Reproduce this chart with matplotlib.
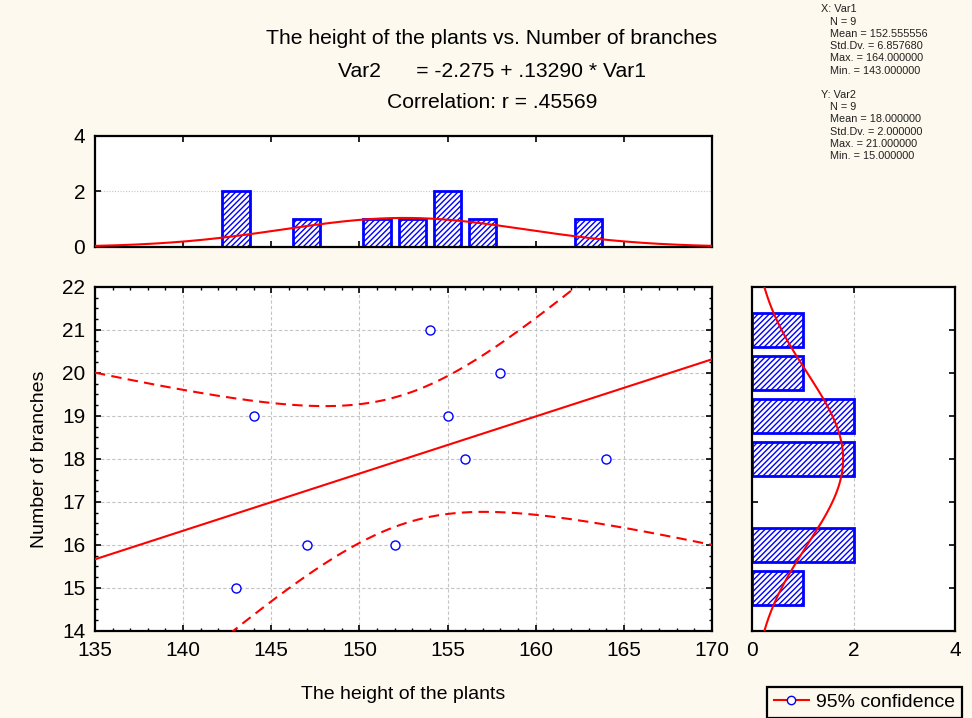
import numpy as np
import matplotlib
matplotlib.use('Agg')
import matplotlib.pyplot as plt
from matplotlib.lines import Line2D
from matplotlib.ticker import MultipleLocator

plt.rcParams['font.family'] = ['Liberation Sans', 'DejaVu Sans']
plt.rcParams['hatch.linewidth'] = 1.0
plt.rcParams['hatch.color'] = '#0000ff'

# data: height of plants (Var1) and number of branches (Var2)
var1 = [143, 144, 147, 152, 154, 155, 156, 158, 164]
var2 = [15, 19, 16, 16, 21, 19, 18, 20, 18]

# histogram of Var1 (bins of width 2, drawn at bin centres)
x_bin_centers = [143, 147, 151, 153, 155, 157, 163]
x_bin_counts = [2, 1, 1, 1, 2, 1, 1]
# histogram of Var2 (bins of width 1)
y_bin_centers = [15, 16, 18, 19, 20, 21]
y_bin_counts = [1, 2, 2, 2, 1, 1]

stats_text = ("X: Var1\n   N = 9\n   Mean = 152.555556\n   Std.Dv. = 6.857680\n"
              "   Max. = 164.000000\n   Min. = 143.000000\n\n"
              "Y: Var2\n   N = 9\n   Mean = 18.000000\n   Std.Dv. = 2.000000\n"
              "   Max. = 21.000000\n   Min. = 15.000000")

BG = '#fdf9ee'
BLUE = '#0000ff'
RED = '#ff0000'
TICK_FS = 15
LABEL_FS = 14

fig = plt.figure(figsize=(9.72, 7.18), dpi=100, facecolor=BG)
ax = fig.add_axes([0.0977, 0.1212, 0.6348, 0.4791])
axt = fig.add_axes([0.0977, 0.656, 0.6348, 0.1546], sharex=ax)
axr = fig.add_axes([0.7737, 0.1212, 0.2088, 0.4791], sharey=ax)

x = np.array(var1, float)
y = np.array(var2, float)
n = len(x)
slope, intercept = np.polyfit(x, y, 1)
resid = y - (intercept + slope * x)
s = np.sqrt((resid ** 2).sum() / (n - 2))
sxx = ((x - x.mean()) ** 2).sum()
t975 = 2.3646  # t(0.975, df=7)

xs = np.linspace(135, 170, 300)
yhat = intercept + slope * xs
hw = t975 * s * np.sqrt(1.0 / n + (xs - x.mean()) ** 2 / sxx)

ax.plot(xs, yhat, color=RED, lw=1.5, zorder=3)
ax.plot(xs, yhat + hw, color=RED, lw=1.5, ls=(0, (5, 3)), zorder=3)
ax.plot(xs, yhat - hw, color=RED, lw=1.5, ls=(0, (5, 3)), zorder=3)
ax.plot(x, y, 'o', mfc='white', mec=BLUE, ms=6.5, mew=1, zorder=4)

ax.set_xlim(135, 170)
ax.set_ylim(14, 22)
ax.xaxis.set_major_locator(MultipleLocator(5))
ax.xaxis.set_minor_locator(MultipleLocator(1))
ax.yaxis.set_major_locator(MultipleLocator(1))
ax.yaxis.set_minor_locator(MultipleLocator(0.25))
ax.grid(True, color='#c4c4c4', ls=(0, (3, 2)), lw=0.8)
ax.set_xlabel('The height of the plants', fontsize=LABEL_FS, labelpad=19)
ax.set_ylabel('Number of branches', fontsize=LABEL_FS, labelpad=10)

for a in (ax, axt, axr):
    a.set_facecolor('white')
    for sp in a.spines.values():
        sp.set_linewidth(1.6)
        sp.set_color('black')
    a.tick_params(which='both', direction='in', top=True, right=True,
                  labelsize=TICK_FS, color='black', pad=7)
    a.tick_params(which='major', length=4, width=1.2)
    a.tick_params(which='minor', length=2.5, width=1)
    a.set_axisbelow(True)

# top histogram
axt.bar(x_bin_centers, x_bin_counts, width=1.55, facecolor='white',
        edgecolor=BLUE, lw=2, hatch='//////', zorder=2)
mx, sx = x.mean(), x.std(ddof=1)
gauss_x = n * 2 * np.exp(-0.5 * ((xs - mx) / sx) ** 2) / (sx * np.sqrt(2 * np.pi))
axt.plot(xs, gauss_x, color=RED, lw=1.5, zorder=3)
axt.set_ylim(0, 4)
axt.set_yticks([0, 2, 4])
axt.grid(True, axis='y', color='#c4c4c4', ls=(0, (1, 1.5)), lw=0.8)
axt.tick_params(labelbottom=False, right=False)
axt.tick_params(axis='x', which='minor', bottom=False, top=False)

# right histogram
axr.barh(y_bin_centers, y_bin_counts, height=0.8, facecolor='white',
         edgecolor=BLUE, lw=2, hatch='//////', zorder=2)
ys = np.linspace(14, 22, 300)
my, sy = y.mean(), y.std(ddof=1)
gauss_y = n * 1 * np.exp(-0.5 * ((ys - my) / sy) ** 2) / (sy * np.sqrt(2 * np.pi))
axr.plot(gauss_y, ys, color=RED, lw=1.5, zorder=3)
axr.set_xlim(0, 4)
axr.set_xticks([0, 2, 4])
axr.grid(True, axis='x', color='#c4c4c4', ls=(0, (3, 2)), lw=0.8)
axr.tick_params(labelleft=False)
axr.tick_params(axis='y', which='minor', left=False, right=False)
axr.tick_params(axis='x', bottom=False)

# titles
title_fs = 15.2
fig.text(0.506, 0.946, 'The height of the plants vs. Number of branches',
         ha='center', va='center', fontsize=title_fs)
fig.text(0.506, 0.900, 'Var2      = -2.275 + .13290 * Var1',
         ha='center', va='center', fontsize=title_fs)
fig.text(0.506, 0.857, 'Correlation: r = .45569',
         ha='center', va='center', fontsize=title_fs)

fig.text(0.845, 0.994, stats_text, ha='left', va='top', fontsize=7.8,
         linespacing=1.28, color='#202020')

handle = Line2D([], [], color=RED, lw=1.5, marker='o', mfc='white',
                mec=BLUE, ms=6)
leg = fig.legend([handle], ['95% confidence'], loc='lower left',
                 bbox_to_anchor=(0.789, 0.0), fontsize=14,
                 fancybox=False, framealpha=1, edgecolor='black',
                 handlelength=1.8, borderpad=0.35, handletextpad=0.4,
                 borderaxespad=0.0)
leg.get_frame().set_linewidth(1.6)
leg.get_frame().set_facecolor(BG)

fig.savefig('out.png', dpi=100, facecolor=BG)
